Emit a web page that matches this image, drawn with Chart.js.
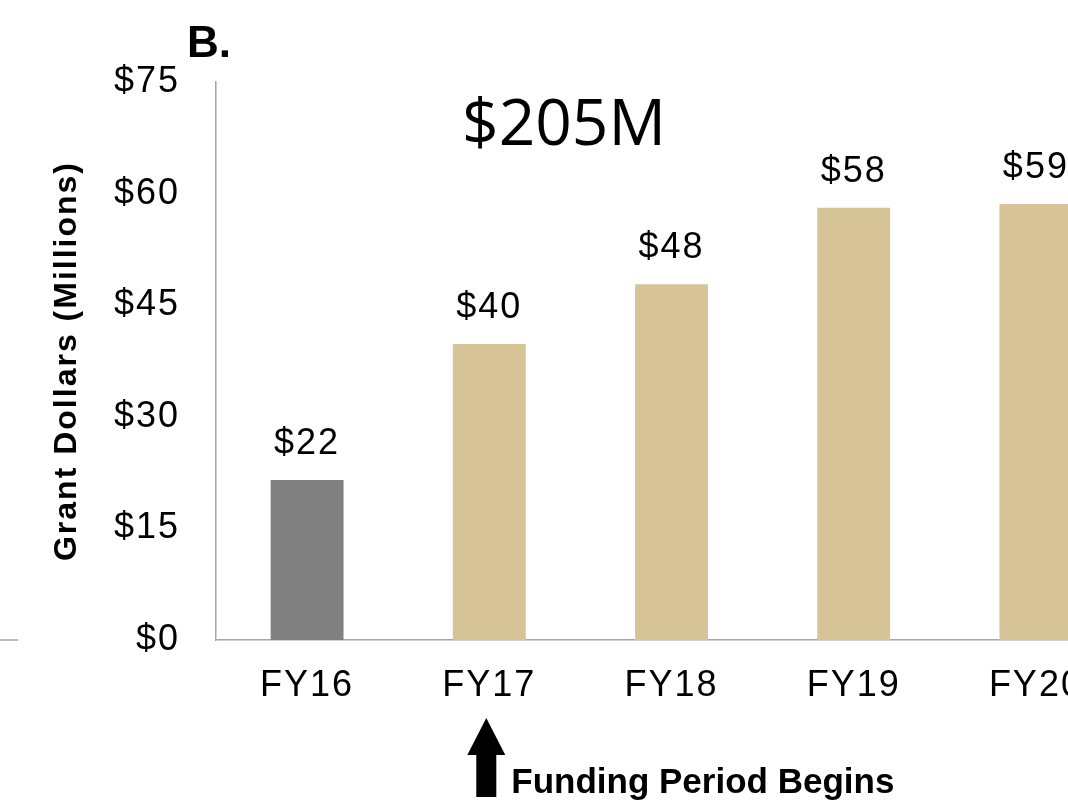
<!DOCTYPE html>
<html>
<head>
<meta charset="utf-8">
<script src="https://cdn.jsdelivr.net/npm/chart.js@4/dist/chart.umd.min.js"></script>
<style>
  html, body { margin: 0; padding: 0; background: #fff; overflow: hidden; }
  #wrap { width: 1127px; height: 809px; }
</style>
</head>
<body>
<div id="wrap"><canvas id="grantChart" width="1127" height="809"></canvas></div>
<script>
// Chart data
const years = ['FY16', 'FY17', 'FY18', 'FY19', 'FY20'];
const grantMillions = [21.5, 39.8, 47.8, 58.1, 58.6];
const barColors = ['#808080', '#d6c396', '#d6c396', '#d6c396', '#d6c396'];
const yTicks = [0, 15, 30, 45, 60, 75];
const totalLabel = '$205M';
const panelLabel = 'B.';
const noteText = 'Funding Period Begins';
const noteYear = 'FY17';

const SANS = '"Liberation Sans", Arial, sans-serif';
const AXIS_GRAY = '#a6a6a6';

// slightly looser letter spacing, like the original slide text
const spacing = {
    id: 'spacing',
    beforeDraw(chart) {
        chart.ctx.letterSpacing = '2px';
    }
};

// draws value labels, panel letter, total and the arrow note
const annotations = {
    id: 'annotations',
    afterDatasetsDraw(chart) {
        const ctx = chart.ctx;
        const area = chart.chartArea;
        const xScale = chart.scales.x;
        const meta = chart.getDatasetMeta(0);

        ctx.save();
        ctx.fillStyle = '#000';

        // value labels above bars
        ctx.letterSpacing = '2px';
        ctx.font = '36px ' + SANS;
        ctx.textAlign = 'center';
        ctx.textBaseline = 'middle';
        meta.data.forEach((bar, i) => {
            ctx.fillText('$' + Math.round(grantMillions[i]), bar.x, bar.y - 36);
        });

        ctx.letterSpacing = '0px';

        // total
        ctx.font = '64px "Open Sans", sans-serif';
        ctx.textBaseline = 'alphabetic';
        ctx.fillText(totalLabel, area.left + 348, 145);

        // panel letter
        ctx.font = 'bold 44px ' + SANS;
        ctx.textAlign = 'left';
        ctx.fillText(panelLabel, 187, 57);

        // arrow under FY17
        const ax = xScale.getPixelForValue(years.indexOf(noteYear)) - 3;
        ctx.beginPath();
        ctx.moveTo(ax, 718);
        ctx.lineTo(ax + 19, 755);
        ctx.lineTo(ax + 10, 755);
        ctx.lineTo(ax + 10, 797);
        ctx.lineTo(ax - 10, 797);
        ctx.lineTo(ax - 10, 755);
        ctx.lineTo(ax - 19, 755);
        ctx.closePath();
        ctx.fill();

        ctx.font = 'bold 35px ' + SANS;
        ctx.fillText(noteText, ax + 25, 793);

        // stub of the neighbouring panel's axis
        ctx.strokeStyle = AXIS_GRAY;
        ctx.lineWidth = 1.5;
        ctx.beginPath();
        ctx.moveTo(0, area.bottom);
        ctx.lineTo(18, area.bottom);
        ctx.stroke();
        ctx.restore();
    }
};

new Chart(document.getElementById('grantChart'), {
    type: 'bar',
    data: {
        labels: years,
        datasets: [{
            data: grantMillions,
            backgroundColor: barColors,
            borderWidth: 0,
            barPercentage: 0.4,
            categoryPercentage: 1.0
        }]
    },
    options: {
        responsive: false,
        animation: false,
        devicePixelRatio: 1,
        layout: { padding: { top: 82, left: 0, right: 0, bottom: 0 } },
        plugins: {
            legend: { display: false },
            tooltip: { enabled: false }
        },
        scales: {
            x: {
                grid: { display: false, drawTicks: false },
                border: { display: true, color: AXIS_GRAY, width: 1.5 },
                ticks: {
                    color: '#000',
                    font: { family: SANS, size: 36 },
                    padding: 24
                },
                afterFit(scale) { scale.height = 169; }
            },
            y: {
                min: 0,
                max: 75,
                grid: { display: false, drawTicks: false },
                border: { display: true, color: AXIS_GRAY, width: 1.5 },
                afterBuildTicks(scale) {
                    scale.ticks = yTicks.map(v => ({ value: v }));
                },
                ticks: {
                    color: '#000',
                    font: { family: SANS, size: 36 },
                    padding: 36,
                    callback: v => '$' + v
                },
                title: {
                    display: true,
                    text: 'Grant Dollars (Millions)',
                    color: '#000',
                    font: { family: SANS, size: 32, weight: 'bold' },
                    padding: { top: 48, bottom: 0 }
                },
                afterFit(scale) { scale.width = 216; }
            }
        }
    },
    plugins: [spacing, annotations]
});
</script>
</body>
</html>
